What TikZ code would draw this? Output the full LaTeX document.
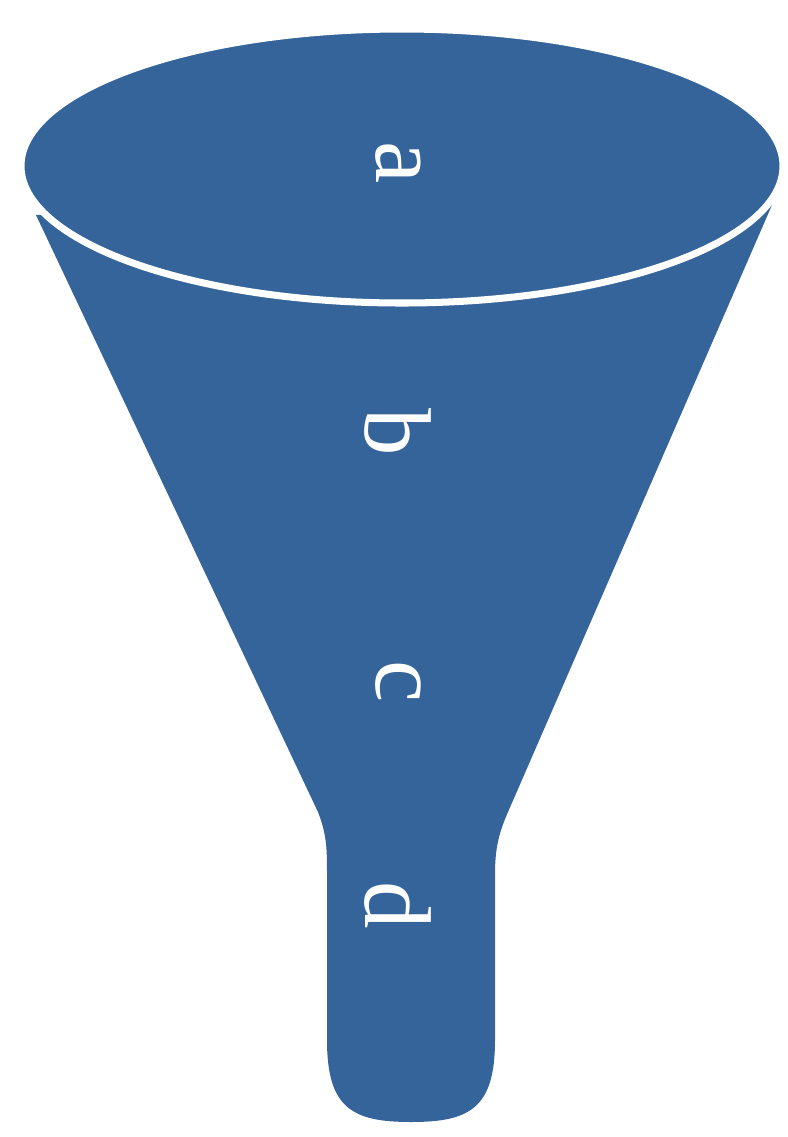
\documentclass[tikz,border=0pt]{standalone}
\usepackage{fontspec}
\setmainfont{Liberation Serif}
\definecolor{azul}{RGB}{52,100,154}
\begin{document}
\begin{tikzpicture}[x=0.02cm, y=-0.02cm,
		letra/.style={text=white, rotate=-90, font=\fontsize{54}{60}\selectfont, inner sep=0pt}]
			\useasboundingbox (0,0) rectangle (788,1137);
			
			% Cuerpo del embudo
			\fill[azul] (36,215) -- (318,812) .. controls (327,835) and (327,850) .. (327,875)
				-- (327,1040) .. controls (327,1108) and (352,1122) .. (411,1122)
				.. controls (470,1122) and (495,1108) .. (495,1040)
				-- (495,875) .. controls (495,850) and (498,835) .. (508,812) -- (772,205) -- cycle;
			\filldraw[azul, draw=white, line width=4pt] (402,166) ellipse (381 and 137);
			
			\node[letra] (a) at (398,163) {a};
			\node[letra] (b) at (398,432) {b};
			\node[letra] (c) at (398,682) {c};
			\node[letra] (d) at (398,905) {d};
		\end{tikzpicture}
\end{document}
